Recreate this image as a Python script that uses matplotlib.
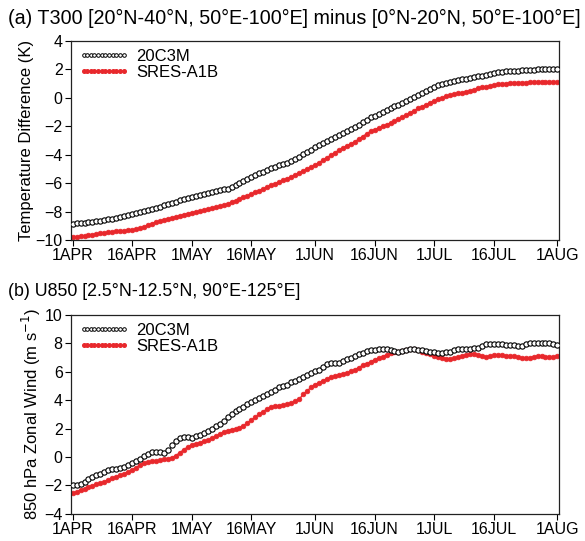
import matplotlib
matplotlib.use("Agg")
import matplotlib.pyplot as plt
import numpy as np
from matplotlib.lines import Line2D

plt.rcParams['font.family'] = ['Liberation Sans', 'DejaVu Sans']

# Daily values 1 APR .. 1 AUG (123 days)
days = np.arange(123)
xtick_pos = [0, 15, 30, 45, 61, 76, 91, 106, 122]
xtick_labels = ['1APR', '16APR', '1MAY', '16MAY', '1JUN', '16JUN', '1JUL', '16JUL', '1AUG']

t300_20c3m = [
    -8.85, -8.83, -8.81, -8.79, -8.76, -8.72, -8.69, -8.65, -8.60, -8.55,
    -8.50, -8.45, -8.38, -8.32, -8.25, -8.18, -8.12, -8.05, -7.98, -7.90,
    -7.82, -7.73, -7.65, -7.56, -7.48, -7.40, -7.30, -7.22, -7.13, -7.06,
    -6.98, -6.88, -6.80, -6.74, -6.68, -6.60, -6.54, -6.48, -6.44, -6.38,
    -6.28, -6.16, -6.02, -5.88, -5.72, -5.56, -5.44, -5.32, -5.20, -5.07,
    -4.95, -4.85, -4.75, -4.65, -4.55, -4.45, -4.30, -4.14, -3.97, -3.82,
    -3.66, -3.49, -3.35, -3.20, -3.06, -2.92, -2.77, -2.62, -2.48, -2.33,
    -2.19, -2.04, -1.88, -1.72, -1.55, -1.38, -1.25, -1.12, -0.99, -0.86,
    -0.74, -0.60, -0.47, -0.34, -0.21, -0.07, 0.07, 0.20, 0.34, 0.49,
    0.64, 0.78, 0.87, 0.96, 1.05, 1.13, 1.19, 1.24, 1.30, 1.35,
    1.40, 1.45, 1.51, 1.56, 1.61, 1.70, 1.78, 1.82, 1.84, 1.86,
    1.88, 1.90, 1.91, 1.93, 1.95, 1.97, 1.99, 2.00, 2.01, 2.01,
    2.01, 2.00, 2.00]

t300_a1b = [
    -9.78, -9.76, -9.73, -9.70, -9.66, -9.62, -9.58, -9.54, -9.50, -9.46,
    -9.42, -9.38, -9.36, -9.34, -9.32, -9.30, -9.24, -9.16, -9.06, -8.95,
    -8.84, -8.73, -8.65, -8.58, -8.51, -8.44, -8.37, -8.29, -8.21, -8.14,
    -8.08, -8.02, -7.97, -7.90, -7.83, -7.76, -7.69, -7.62, -7.55, -7.45,
    -7.34, -7.23, -7.11, -7.00, -6.89, -6.77, -6.64, -6.52, -6.40, -6.27,
    -6.14, -6.03, -5.91, -5.80, -5.68, -5.56, -5.42, -5.28, -5.14, -5.00,
    -4.87, -4.73, -4.56, -4.38, -4.21, -4.03, -3.86, -3.68, -3.53, -3.38,
    -3.24, -3.09, -2.90, -2.72, -2.53, -2.35, -2.24, -2.13, -2.01, -1.90,
    -1.76, -1.63, -1.49, -1.36, -1.20, -1.05, -0.89, -0.74, -0.61, -0.47,
    -0.34, -0.20, -0.10, 0.00, 0.10, 0.20, 0.26, 0.31, 0.37, 0.43,
    0.50, 0.58, 0.66, 0.74, 0.79, 0.84, 0.90, 0.95, 0.98, 1.01,
    1.04, 1.06, 1.07, 1.08, 1.08, 1.09, 1.09, 1.09, 1.09, 1.09,
    1.09, 1.09, 1.09]

u850_20c3m = [
    -1.98, -1.95, -1.88, -1.75, -1.55, -1.39, -1.28, -1.18, -1.05, -0.95,
    -0.88, -0.84, -0.80, -0.72, -0.58, -0.45, -0.30, -0.12, 0.05, 0.22,
    0.33, 0.37, 0.34, 0.28, 0.50, 0.85, 1.10, 1.30, 1.42, 1.40,
    1.36, 1.45, 1.54, 1.70, 1.85, 2.00, 2.15, 2.30, 2.55, 2.80,
    3.05, 3.25, 3.40, 3.55, 3.70, 3.85, 4.00, 4.15, 4.30, 4.45,
    4.60, 4.75, 4.90, 5.00, 5.10, 5.25, 5.38, 5.47, 5.62, 5.78,
    5.92, 6.03, 6.15, 6.35, 6.58, 6.62, 6.63, 6.64, 6.75, 6.88,
    6.98, 7.10, 7.22, 7.35, 7.45, 7.52, 7.56, 7.58, 7.58, 7.58,
    7.55, 7.48, 7.42, 7.45, 7.52, 7.57, 7.58, 7.55, 7.50, 7.47,
    7.42, 7.37, 7.33, 7.34, 7.38, 7.42, 7.50, 7.57, 7.60, 7.62,
    7.63, 7.64, 7.68, 7.85, 7.96, 7.97, 7.97, 7.96, 7.95, 7.92,
    7.90, 7.87, 7.83, 7.82, 7.95, 8.05, 8.06, 8.06, 8.05, 8.04,
    8.02, 7.96, 7.89]

u850_a1b = [
    -2.57, -2.47, -2.35, -2.25, -2.12, -2.02, -1.94, -1.86, -1.74, -1.62,
    -1.50, -1.39, -1.30, -1.18, -1.05, -0.92, -0.75, -0.55, -0.42, -0.36,
    -0.32, -0.29, -0.24, -0.18, -0.13, -0.05, 0.10, 0.30, 0.52, 0.70,
    0.85, 0.93, 1.00, 1.10, 1.20, 1.30, 1.45, 1.60, 1.75, 1.85,
    1.92, 1.98, 2.05, 2.20, 2.40, 2.60, 2.80, 3.00, 3.20, 3.40,
    3.52, 3.58, 3.62, 3.66, 3.70, 3.78, 3.92, 4.06, 4.40, 4.65,
    4.90, 5.10, 5.22, 5.38, 5.50, 5.60, 5.70, 5.77, 5.84, 5.92,
    6.02, 6.14, 6.30, 6.45, 6.58, 6.70, 6.85, 6.95, 7.07, 7.20,
    7.30, 7.37, 7.41, 7.48, 7.55, 7.58, 7.58, 7.52, 7.42, 7.34,
    7.22, 7.10, 7.02, 6.95, 6.91, 6.90, 6.95, 7.02, 7.08, 7.15,
    7.22, 7.25, 7.20, 7.12, 7.06, 7.10, 7.16, 7.18, 7.16, 7.14,
    7.13, 7.11, 7.05, 6.98, 6.95, 6.98, 7.06, 7.11, 7.08, 7.04,
    7.02, 7.05, 7.11]

series_names = ['20C3M', 'SRES-A1B']
RED = '#e8282c'

fig = plt.figure(figsize=(5.85, 5.41), dpi=100)
ax_a = fig.add_axes([71/585, 1-240/541, (559-71)/585, (240-41)/541])
ax_b = fig.add_axes([71/585, 1-513.7/541, (559-71)/585, (513.7-315)/541])

def style(ax, ylim, ylabel, title, ty, tsize):
    ax.set_xlim(-0.4, 122.4)
    ax.set_ylim(*ylim)
    ax.set_yticks(np.arange(ylim[0], ylim[1]+0.1, 2))
    ax.set_xticks(xtick_pos)
    ax.set_xticklabels(xtick_labels)
    ax.tick_params(direction='out', length=4, width=0.8, labelsize=11.5, pad=2)
    for s in ax.spines.values():
        s.set_linewidth(0.9)
        s.set_color('#222222')
    ax.set_ylabel(ylabel, fontsize=12, labelpad=1)
    fig.text(8/585, 1-ty/541, title, fontsize=tsize, ha='left', va='center')

def draw(ax, y1, y2):
    ax.plot(days, y1, linestyle='none', marker='o', markersize=3.8,
            markerfacecolor='white', markeredgecolor='black', markeredgewidth=0.8, zorder=3)
    ax.plot(days, y2, color=RED, linewidth=1.0, marker='o', markersize=3.4,
            markerfacecolor=RED, markeredgecolor=RED, markeredgewidth=0.5, zorder=2)
    handles = [
        Line2D([], [], linestyle='none', marker='o', markersize=2.6, markerfacecolor='white',
               markeredgecolor='black', markeredgewidth=0.7),
        Line2D([], [], color=RED, linewidth=1.0, marker='o', markersize=2.6,
               markerfacecolor=RED, markeredgecolor=RED),
    ]
    ax.legend(handles, series_names, loc='upper left', frameon=False, fontsize=12,
              numpoints=12, handlelength=3.0, handletextpad=0.45, labelspacing=0.1,
              borderaxespad=0.15, borderpad=0.3)

draw(ax_a, t300_20c3m, t300_a1b)
style(ax_a, (-10, 4), 'Temperature Difference (K)',
      '(a) T300 [20°N-40°N, 50°E-100°E] minus [0°N-20°N, 50°E-100°E]', 18, 14.2)

draw(ax_b, u850_20c3m, u850_a1b)
style(ax_b, (-4, 10), '850 hPa Zonal Wind (m s$^{-1}$)',
      '(b) U850 [2.5°N-12.5°N, 90°E-125°E]', 292, 12.8)

fig.savefig('out.png', dpi=100)
